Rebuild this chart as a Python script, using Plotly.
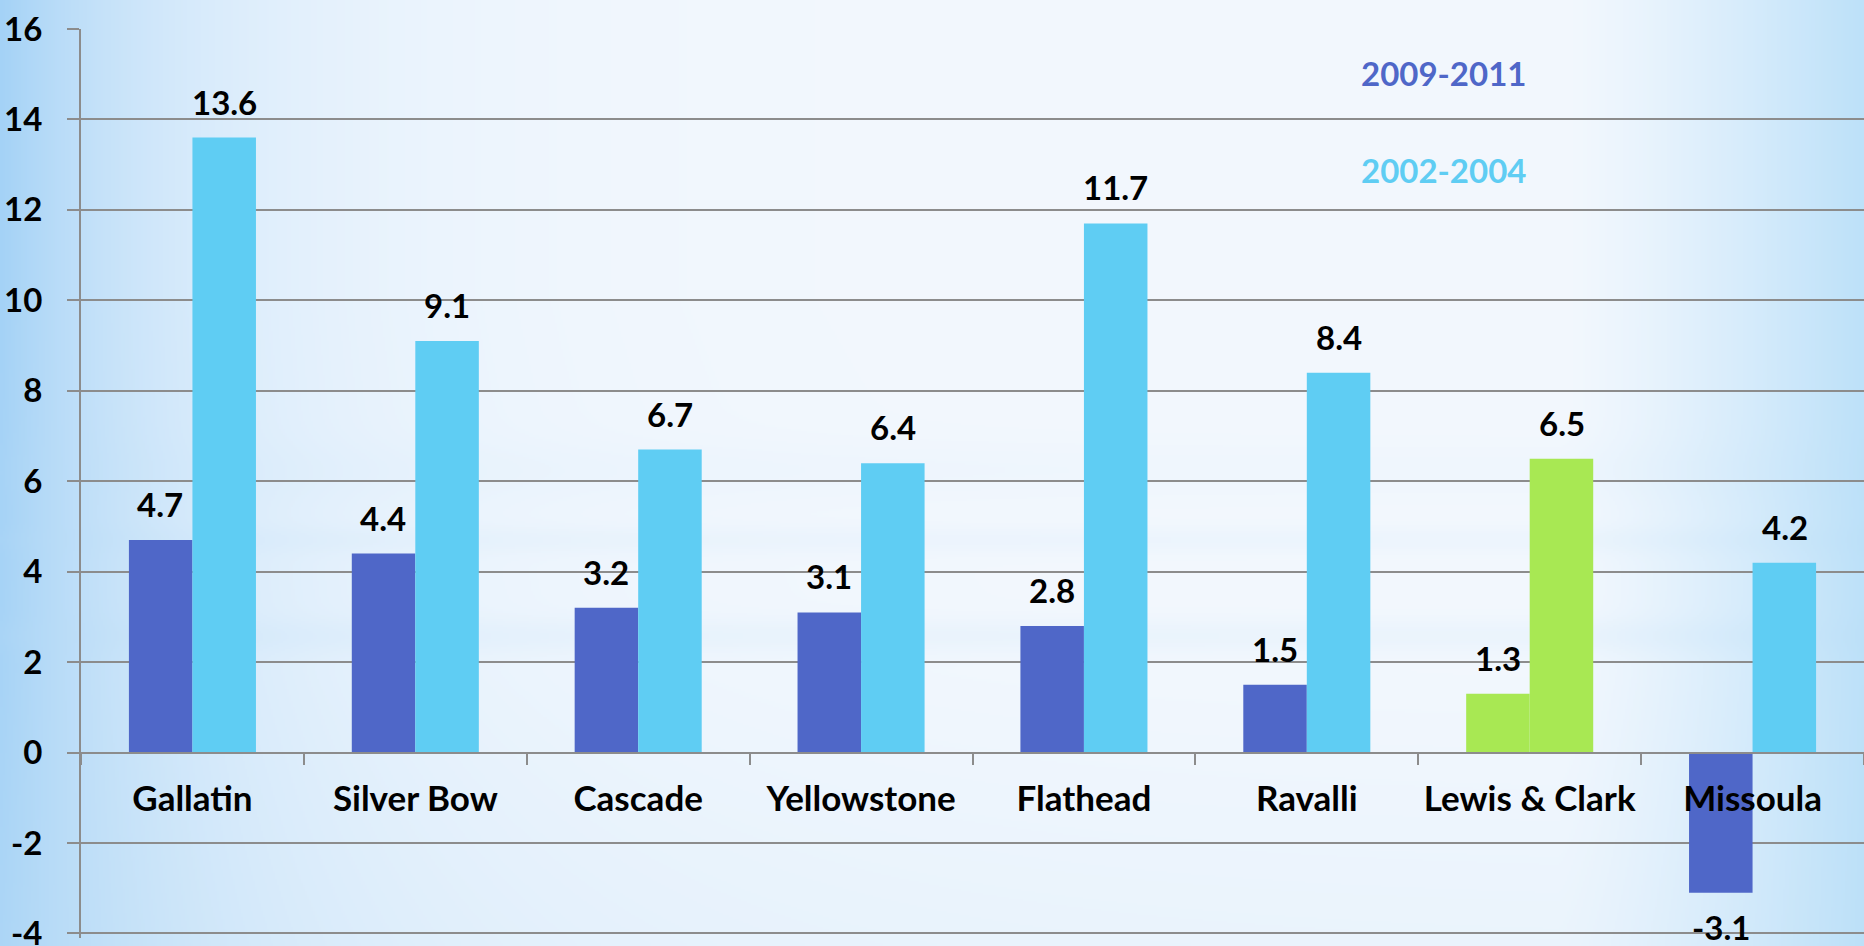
import base64
import struct
import zlib

import numpy as np
import plotly.graph_objects as go

# ---------------- data ----------------
counties = ["Gallatin", "Silver Bow", "Cascade", "Yellowstone",
            "Flathead", "Ravalli", "Lewis & Clark", "Missoula"]
growth_2009_2011 = [4.7, 4.4, 3.2, 3.1, 2.8, 1.5, 1.3, -3.1]
growth_2002_2004 = [13.6, 9.1, 6.7, 6.4, 11.7, 8.4, 6.5, 4.2]
series_names = ["2009-2011", "2002-2004"]
y_ticks = [-4, -2, 0, 2, 4, 6, 8, 10, 12, 14, 16]
highlight_county = "Lewis & Clark"

# ---------------- style ----------------
DARK = "#4F67C8"
LIGHT = "#5FCDF3"
GREEN = "#A8E853"
GRID = "#8C8C8C"
FONT = "Lato"
FS = 33

W, H = 1864, 946
ML, MR, MT, MB = 81, 0, 29, 8
PW, PH = W - ML - MR, H - MT - MB
Y_RANGE = [-4.1, 16]
ZERO_POS = (0 - Y_RANGE[0]) / (Y_RANGE[1] - Y_RANGE[0])

colors_a = [GREEN if c == highlight_county else DARK for c in counties]
colors_b = [GREEN if c == highlight_county else LIGHT for c in counties]


# ---------------- background gradient image ----------------
def make_background(w=932, h=473):
    xs = (np.arange(w) + 0.5) * W / w
    ys = (np.arange(h) + 0.5) * H / h
    center = np.array([243, 248, 254], float)
    left = np.array([164, 210, 246], float)
    right = np.array([189, 225, 249], float)
    xf = xs / W
    wl = np.exp(-xf / 0.10)
    wr = np.clip((xs - 1560) / (W - 1560), 0, 1) ** 1.3
    wr = np.minimum(wr, 1 - wl)
    row = (center[None, :] * (1 - wl - wr)[:, None]
           + left[None, :] * wl[:, None] + right[None, :] * wr[:, None])
    img = np.repeat(row[None, :, :], h, axis=0)
    # vertical blue tints (bands and a bluer bottom-left)
    g = lambda y, c, s: np.exp(-0.5 * ((y - c) / s) ** 2)
    tint = (0.10 * g(ys, 540, 9) + 0.13 * g(ys, 636, 12)
            + 0.06 * g(ys, 470, 20)
            + 0.14 * np.clip((ys - 650) / 296, 0, 1))
    tint2d = tint[:, None] * np.ones(w)[None, :]
    leftboost = np.exp(-xf / 0.22)[None, :] * np.clip((ys - 300) / 646, 0, 1)[:, None] * 0.25
    tint2d = tint2d + leftboost
    tcol = np.array([185, 220, 246], float)
    img = img * (1 - tint2d[:, :, None]) + tcol[None, None, :] * tint2d[:, :, None]
    arr = np.clip(img, 0, 255).astype(np.uint8)
    raw = b"".join(b"\x00" + arr[r].tobytes() for r in range(h))

    def chunk(tag, data):
        c = struct.pack(">I", len(data)) + tag + data
        return c + struct.pack(">I", zlib.crc32(tag + data) & 0xFFFFFFFF)

    png = (b"\x89PNG\r\n\x1a\n"
           + chunk(b"IHDR", struct.pack(">IIBBBBB", w, h, 8, 2, 0, 0, 0))
           + chunk(b"IDAT", zlib.compress(raw, 9))
           + chunk(b"IEND", b""))
    return "data:image/png;base64," + base64.b64encode(png).decode()


# ---------------- figure ----------------
fig = go.Figure()
fig.add_trace(go.Bar(x=counties, y=growth_2009_2011, name=series_names[0],
                     marker=dict(color=colors_a, line=dict(width=0))))
fig.add_trace(go.Bar(x=counties, y=growth_2002_2004, name=series_names[1],
                     marker=dict(color=colors_b, line=dict(width=0))))

annotations = []
for vals, shift in ((growth_2009_2011, -32), (growth_2002_2004, 32)):
    for c, v in zip(counties, vals):
        pos = v >= 0
        annotations.append(dict(
            x=c, y=v, xref="x", yref="y", text=f"{v:.1f}", showarrow=False,
            xshift=shift, yshift=14 if pos else -12,
            yanchor="bottom" if pos else "top",
            font=dict(family=FONT, size=FS, color="black", weight="bold")))

legend_y = [(933 - 73) / PH, (933 - 170) / PH]
for name, col, yy in zip(series_names, [DARK, LIGHT], legend_y):
    annotations.append(dict(
        x=0.7644, y=yy + (PH - 904) / PH, xref="paper", yref="paper", text=name,
        showarrow=False, xanchor="center", yanchor="middle",
        font=dict(family=FONT, size=FS, color=col, weight="bold")))

fig.update_layout(
    width=W, height=H,
    margin=dict(l=ML, r=MR, t=MT, b=MB, pad=0, autoexpand=False),
    paper_bgcolor="white",
    plot_bgcolor="rgba(0,0,0,0)",
    barmode="group", bargap=0.43, bargroupgap=0,
    showlegend=False,
    annotations=annotations,
    images=[dict(source=make_background(), xref="paper", yref="paper",
                 x=-ML / PW, y=1 + MT / PH, sizex=W / PW, sizey=H / PH,
                 xanchor="left", yanchor="top", sizing="stretch",
                 layer="below")],
    xaxis=dict(type="category", anchor="free", position=ZERO_POS, automargin=False,
               range=[-0.5, len(counties) - 0.5],
               showline=True, linecolor=GRID, linewidth=2,
               ticks="outside", ticklen=11, tickwidth=2, tickcolor=GRID,
               tickson="boundaries", showgrid=False,
               tickfont=dict(family=FONT, size=35, color="black", weight="bold"),
               ticklabelstandoff=15),
    yaxis=dict(range=Y_RANGE, tickvals=y_ticks, ticktext=[str(t) for t in y_ticks],
               automargin=False, ticklabeloverflow="allow",
               showgrid=True, gridcolor=GRID, gridwidth=2, zeroline=False,
               showline=True, linecolor=GRID, linewidth=2,
               ticks="outside", ticklen=12, tickwidth=2, tickcolor=GRID,
               tickfont=dict(family=FONT, size=FS, color="black", weight="bold"),
               ticklabelstandoff=18),
)

fig.write_html(
    "out.html",
    config={"displayModeBar": False},
    post_script="document.body.style.margin='0';document.body.style.overflow='hidden';",
)
